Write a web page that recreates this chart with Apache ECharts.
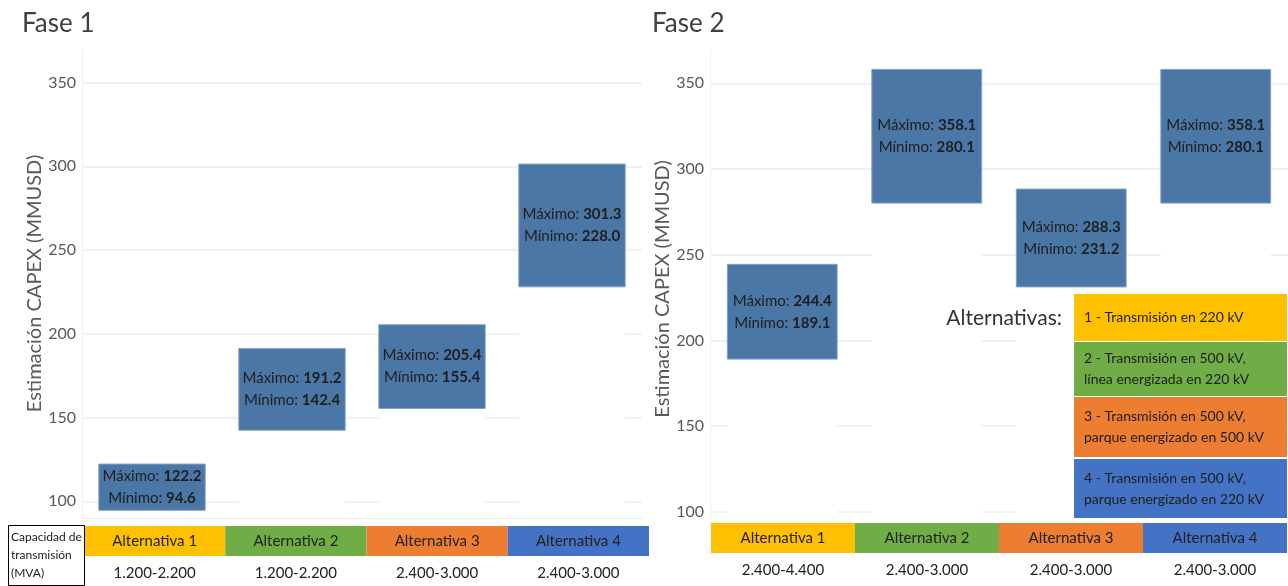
<!DOCTYPE html>
<html>
<head>
<meta charset="utf-8">
<title>Estimación CAPEX por alternativa</title>
<script src="https://cdn.jsdelivr.net/npm/echarts@6/dist/echarts.min.js"></script>
<style>
  html, body { margin: 0; padding: 0; background: #ffffff; }
  #chart { width: 1288px; height: 586px; }
</style>
</head>
<body>
<div id="chart"></div>
<script>
// Alternatives compared in both phases
const categories = ['Alternativa 1', 'Alternativa 2', 'Alternativa 3', 'Alternativa 4'];

// Fase 1: CAPEX range (MMUSD) and transmission capacity (MVA)
const fase1Min = [94.6, 142.4, 155.4, 228.0];
const fase1Max = [122.2, 191.2, 205.4, 301.3];
const fase1Cap = ['1.200-2.200', '1.200-2.200', '2.400-3.000', '2.400-3.000'];

// Fase 2: CAPEX range (MMUSD) and transmission capacity (MVA)
const fase2Min = [189.1, 280.1, 231.2, 280.1];
const fase2Max = [244.4, 358.1, 288.3, 358.1];
const fase2Cap = ['2.400-4.400', '2.400-3.000', '2.400-3.000', '2.400-3.000'];

// Value axis tick labels
const yTicks = [100, 150, 200, 250, 300, 350];

// Colour key of the alternatives
const bandColors = ['#ffc000', '#70ad47', '#ed7d31', '#4472c4'];
const legendTitle = 'Alternativas:';
const legendItems = [
  '1 - Transmisión en 220 kV',
  '2 - Transmisión en 500 kV,\nlínea energizada en 220 kV',
  '3 - Transmisión en 500 kV,\nparque energizado en 500 kV',
  '4 - Transmisión en 500 kV,\nparque energizado en 220 kV'
];
const capacityHeader = 'Capacidad de\ntransmisión\n(MVA)';
const yName = 'Estimación CAPEX (MMUSD)';

const FONT = 'Lato';
const BAR_FILL = '#4b77a7';
const fmt = v => v.toFixed(1);

// Floating bar drawn from the minimum to the maximum of each alternative;
// the column below the bar is painted white, hiding the grid lines there.
function rangeBar(params, api) {
  const i = api.value(0);
  const lo = api.value(1);
  const hi = api.value(2);
  const top = api.coord([i, hi]);
  const bot = api.coord([i, lo]);
  const w = api.size([1, 0])[0] * 0.76;
  const axisBottom = params.coordSys.y + params.coordSys.height;
  const x0 = top[0] - w / 2;
  return {
    type: 'group',
    children: [
      {
        type: 'rect',
        shape: { x: x0, y: bot[1], width: w, height: axisBottom - bot[1] },
        style: { fill: '#ffffff' }
      },
      {
        type: 'rect',
        shape: { x: x0, y: top[1], width: w, height: bot[1] - top[1] },
        style: { fill: BAR_FILL, stroke: '#86a2c4', lineWidth: 1 }
      },
      {
        type: 'text',
        x: top[0],
        y: (top[1] + bot[1]) / 2,
        style: {
          text: '{k|Máximo: }{v|' + fmt(hi) + '}\n{k|Mínimo: }{v|' + fmt(lo) + '}',
          align: 'center',
          verticalAlign: 'middle',
          rich: {
            k: { fontFamily: FONT, fontSize: 15, fill: '#1e1e1e', lineHeight: 22 },
            v: { fontFamily: FONT, fontSize: 15, fontWeight: 'bold', fill: '#1e1e1e', lineHeight: 22 }
          }
        }
      }
    ]
  };
}

function valueAxis(gridIndex) {
  return {
    type: 'value',
    gridIndex: gridIndex,
    min: 90,
    max: 370,
    name: yName,
    nameLocation: 'middle',
    nameGap: 37,
    nameTextStyle: { fontFamily: FONT, fontSize: 20, color: '#595959' },
    axisLine: { show: true, lineStyle: { color: '#f0f0f0', width: 1 } },
    axisTick: { show: false, customValues: yTicks },
    axisLabel: { customValues: yTicks, fontFamily: FONT, fontSize: 16, color: '#595959', margin: 6 },
    splitLine: { show: true, lineStyle: { color: '#ececec', width: 1.5 } }
  };
}

function bandAxis(gridIndex, caps) {
  return {
    type: 'category',
    gridIndex: gridIndex,
    data: categories,
    axisLine: { show: false },
    axisTick: { show: false },
    axisLabel: {
      formatter: (v, idx) => caps[idx],
      fontFamily: FONT, fontSize: 15, color: '#222222', margin: 10
    }
  };
}

function bandSeries(axisIndex) {
  return {
    type: 'bar',
    xAxisIndex: axisIndex,
    yAxisIndex: axisIndex,
    silent: true,
    barWidth: '100%',
    data: categories.map((c, i) => ({ value: 1, itemStyle: { color: bandColors[i] } })),
    label: {
      show: true, position: 'inside', formatter: '{b}',
      fontFamily: FONT, fontSize: 15, color: '#222222'
    }
  };
}

// Colour key drawn as stacked boxes, above the plotted marks
const legendTops = [294, 342, 397, 459];
const legendHeights = [47, 54, 60, 59];
const legendGraphics = [];
legendItems.forEach((t, i) => {
  legendGraphics.push({
    type: 'rect',
    z: 100,
    left: 1074, top: legendTops[i],
    shape: { width: 213, height: legendHeights[i] },
    style: { fill: bandColors[i] }
  });
  legendGraphics.push({
    type: 'text',
    z: 101,
    x: 1084, y: legendTops[i] + legendHeights[i] / 2,
    style: {
      text: t, fill: '#1e1e1e', font: '14px ' + FONT,
      lineHeight: 21, verticalAlign: 'middle', align: 'left'
    }
  });
});

const chart = echarts.init(document.getElementById('chart'), null, { renderer: 'canvas' });
chart.setOption({
  animation: false,
  backgroundColor: '#ffffff',
  title: [
    { text: 'Fase 1', left: 17, top: 6, textStyle: { fontFamily: FONT, fontSize: 26, fontWeight: 'normal', color: '#404040' } },
    { text: 'Fase 2', left: 647, top: 6, textStyle: { fontFamily: FONT, fontSize: 26, fontWeight: 'normal', color: '#404040' } }
  ],
  grid: [
    { left: 82, right: 646, top: 49, bottom: 68 },
    { left: 710, right: 0, top: 49, bottom: 57 },
    { left: 84, right: 639, top: 526, height: 30 },
    { left: 711, right: 1, top: 523, height: 30 }
  ],
  xAxis: [
    {
      type: 'category', gridIndex: 0, data: categories,
      axisLine: { show: true, lineStyle: { color: '#ececec' } },
      axisTick: { show: false }, axisLabel: { show: false }
    },
    {
      type: 'category', gridIndex: 1, data: categories,
      axisLine: { show: false }, axisTick: { show: false }, axisLabel: { show: false }
    },
    bandAxis(2, fase1Cap),
    bandAxis(3, fase2Cap)
  ],
  yAxis: [
    valueAxis(0),
    valueAxis(1),
    { type: 'value', gridIndex: 2, min: 0, max: 1, show: false },
    { type: 'value', gridIndex: 3, min: 0, max: 1, show: false }
  ],
  series: [
    {
      type: 'custom', xAxisIndex: 0, yAxisIndex: 0,
      renderItem: rangeBar,
      encode: { x: 0, y: [1, 2] },
      data: fase1Min.map((m, i) => [i, m, fase1Max[i]])
    },
    {
      type: 'custom', xAxisIndex: 1, yAxisIndex: 1,
      renderItem: rangeBar,
      encode: { x: 0, y: [1, 2] },
      data: fase2Min.map((m, i) => [i, m, fase2Max[i]])
    },
    bandSeries(2),
    bandSeries(3)
  ],
  graphic: [
    {
      type: 'rect', z: 100, left: 8, top: 525,
      shape: { width: 76, height: 60 },
      style: { fill: '#ffffff', stroke: '#000000', lineWidth: 1 }
    },
    {
      type: 'text', z: 101, x: 11, y: 555,
      style: { text: capacityHeader, fill: '#222222', font: '12px ' + FONT, lineHeight: 18, verticalAlign: 'middle' }
    },
    {
      type: 'text', z: 101, x: 1062, y: 318,
      style: { text: legendTitle, fill: '#333333', font: '21px ' + FONT, align: 'right', verticalAlign: 'middle' }
    }
  ].concat(legendGraphics)
});
</script>
</body>
</html>
